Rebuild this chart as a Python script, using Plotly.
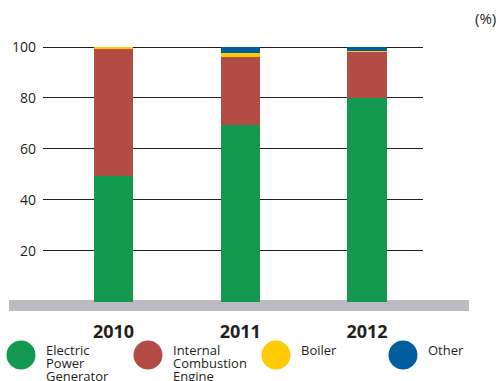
import plotly.graph_objects as go

# Share of energy use by equipment type (%)
years = ["2010", "2011", "2012"]
series_names = ["Electric Power Generator", "Internal Combustion Engine", "Boiler", "Other"]
legend_lines = [["Electric", "Power", "Generator"], ["Internal", "Combustion", "Engine"], ["Boiler"], ["Other"]]
electric = [49.5, 69.2, 80.0]
combustion = [50.0, 27.0, 18.1]
boiler = [0.5, 1.5, 0.4]
other = [0.0, 2.3, 1.5]
colors = ["#13984f", "#b24c45", "#ffcb05", "#005e9e"]
y_ticks = [20, 40, 60, 80, 100]

W, H = 501, 381
L, R, T, B = 43, 78, 42, 68
Y_RANGE = [-4.5, 102]
FONT = "Open Sans"
INK = "#231f20"

plot_w = W - L - R
plot_h = H - T - B


def px_x(px):
    return (px - L) / plot_w


def px_y(py):
    return (H - B - py) / plot_h


fig = go.Figure()
for name, vals, col in zip(series_names, [electric, combustion, boiler, other], colors):
    fig.add_trace(go.Bar(
        x=list(range(len(years))), y=vals, name=name,
        marker=dict(color=col, line=dict(width=0)),
        width=0.308, showlegend=False, hoverinfo="skip",
    ))

# grey floor band under the bars
fig.add_shape(type="rect", xref="paper", yref="paper",
              x0=px_x(9), x1=px_x(469), y0=px_y(311), y1=px_y(300),
              fillcolor="#bbbcbf", line=dict(width=0), layer="below")

# legend: coloured discs with tightly stacked labels
disc_x = [21, 148, 276, 403]
for cx, col, lines in zip(disc_x, colors, legend_lines):
    r = 14.5
    fig.add_shape(type="circle", xref="paper", yref="paper",
                  x0=px_x(cx - r), x1=px_x(cx + r), y0=px_y(355 + r), y1=px_y(355 - r),
                  fillcolor=col, line=dict(width=0))
    for i, txt in enumerate(lines):
        fig.add_annotation(text=txt, xref="paper", yref="paper",
                           x=px_x(cx + 24), y=px_y(350 + i * 12.8),
                           xanchor="left", yanchor="middle", showarrow=False,
                           borderpad=0,
                           font=dict(family=FONT, size=13, color=INK))

fig.add_annotation(text="(%)", xref="paper", yref="paper",
                   x=px_x(498), y=px_y(18), xanchor="right", yanchor="middle",
                   showarrow=False, font=dict(family=FONT, size=15, color=INK))

fig.update_layout(
    width=W, height=H, margin=dict(l=L, r=R, t=T, b=B),
    paper_bgcolor="white", plot_bgcolor="white",
    barmode="stack", bargap=0,
    font=dict(family=FONT, color=INK),
    xaxis=dict(range=[-0.556, 2.442], tickvals=list(range(len(years))), ticktext=years,
               showgrid=False, zeroline=False, showline=False, ticks="",
               tickfont=dict(family=FONT, size=18, color=INK, weight="bold"),
               ticklabelstandoff=6, fixedrange=True),
    yaxis=dict(range=Y_RANGE, tickvals=y_ticks, showgrid=True, gridcolor=INK,
               gridwidth=1.3, zeroline=False, showline=False, ticks="",
               tickfont=dict(family=FONT, size=14, color=INK),
               ticklabelstandoff=6, fixedrange=True),
)

fig.write_html("out.html")
